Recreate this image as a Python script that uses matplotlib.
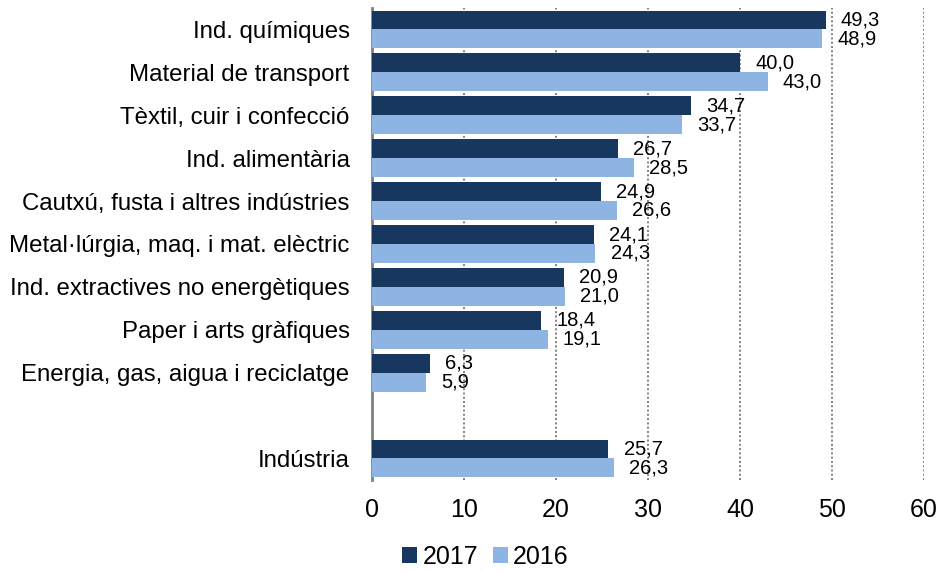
import numpy as np
import matplotlib
matplotlib.use('Agg')
import matplotlib.pyplot as plt

plt.rcParams['font.family'] = ['Liberation Sans', 'DejaVu Sans']

# Dades
sectors = ['Ind. químiques', 'Material de transport', 'Tèxtil, cuir i confecció',
           'Ind. alimentària', 'Cautxú, fusta i altres indústries',
           'Metal·lúrgia, maq. i mat. elèctric', 'Ind. extractives no energètiques',
           'Paper i arts gràfiques', 'Energia, gas, aigua i reciclatge', '', 'Indústria']
v2017 = [49.3, 40.0, 34.7, 26.7, 24.9, 24.1, 20.9, 18.4, 6.3, np.nan, 25.7]
v2016 = [48.9, 43.0, 33.7, 28.5, 26.6, 24.3, 21.0, 19.1, 5.9, np.nan, 26.3]

col17 = '#17375E'
col16 = '#8EB4E3'

fig = plt.figure(figsize=(9.39, 5.72), dpi=100)
ax = fig.add_axes([0.396, 0.161, 0.588, 0.825])

y = np.arange(len(sectors))
h = 0.44
ax.barh(y - h/2, v2017, height=h, color=col17, label='2017', zorder=3)
ax.barh(y + h/2, v2016, height=h, color=col16, label='2016', zorder=3)

def etiqueta(v):
    return ('%.1f' % v).replace('.', ',')

for i in range(len(sectors)):
    if not np.isnan(v2017[i]):
        ax.annotate(etiqueta(v2017[i]), (v2017[i], y[i] - h/2), xytext=(11, 0),
                    textcoords='offset points', va='center', ha='left', fontsize=14.5)
        ax.annotate(etiqueta(v2016[i]), (v2016[i], y[i] + h/2), xytext=(11, 0),
                    textcoords='offset points', va='center', ha='left', fontsize=14.5)

ax.set_xlim(0, 60)
ax.set_ylim(len(sectors) - 0.5, -0.5)
ax.set_yticks(y)
ax.set_yticklabels(sectors, fontsize=17.3)
ax.set_xticks(range(0, 61, 10))
ax.tick_params(axis='x', labelsize=18, length=0, pad=13)
ax.tick_params(axis='y', length=0, pad=16)

for s in ['top', 'right', 'bottom']:
    ax.spines[s].set_visible(False)
ax.spines['left'].set_color('#808080')
ax.spines['left'].set_linewidth(2)

for g in range(10, 61, 10):
    ax.axvline(g, color='#808080', linestyle=(0, (1, 1.2)), linewidth=1.4, zorder=1)

fig.legend(loc='center', bbox_to_anchor=(0.517, 0.026), ncol=2, frameon=False,
           fontsize=18, handlelength=0.6, handleheight=0.6, handletextpad=0.2,
           columnspacing=0.6)

fig.savefig('out.png', dpi=100)
